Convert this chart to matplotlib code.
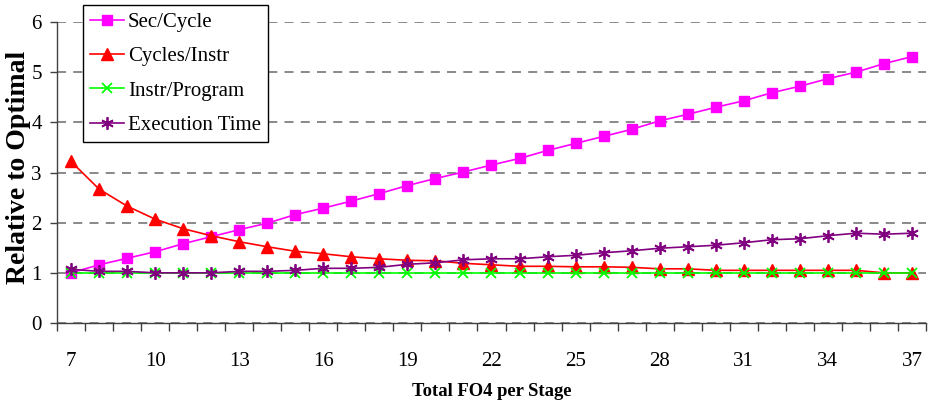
import matplotlib
matplotlib.use("Agg")
import matplotlib.pyplot as plt
import numpy as np

# Pipeline depth (total FO4 per stage)
fo4 = list(range(7, 38))

sec_per_cycle = [1.00, 1.16, 1.29, 1.42, 1.58, 1.72, 1.86, 1.99, 2.16, 2.29,
                 2.43, 2.58, 2.74, 2.88, 3.01, 3.15, 3.28, 3.44, 3.58, 3.72,
                 3.86, 4.03, 4.16, 4.30, 4.43, 4.59, 4.72, 4.87, 5.00, 5.17,
                 5.31]
cycles_per_instr = [3.22, 2.67, 2.33, 2.07, 1.88, 1.74, 1.62, 1.52, 1.43, 1.38,
                    1.32, 1.28, 1.25, 1.24, 1.19, 1.16, 1.13, 1.13, 1.12, 1.12,
                    1.11, 1.08, 1.08, 1.05, 1.05, 1.05, 1.05, 1.05, 1.05, 1.00,
                    1.00]
instr_per_program = [1.00] * 31
execution_time = [1.07, 1.03, 1.03, 1.00, 1.00, 1.00, 1.03, 1.03, 1.05, 1.09,
                  1.09, 1.11, 1.17, 1.20, 1.26, 1.28, 1.28, 1.32, 1.35, 1.40,
                  1.44, 1.49, 1.52, 1.55, 1.60, 1.66, 1.68, 1.74, 1.79, 1.77,
                  1.79]

tick_labels = [str(v) for v in range(7, 38, 3)]

plt.rcParams['font.family'] = ['Liberation Serif', 'DejaVu Serif']

W, H = 929, 407
fig = plt.figure(figsize=(W / 100, H / 100), dpi=100)
ax = fig.add_axes([57 / W, 84 / H, 869 / W, 301 / H])

x = np.arange(len(fo4))

ax.plot(x, sec_per_cycle, color='#FF00FF', marker='s', markersize=7,
        linewidth=1.2, label='Sec/Cycle', clip_on=False)
ax.plot(x, cycles_per_instr, color='#FF0000', marker='^', markersize=8,
        linewidth=1.2, label='Cycles/Instr', clip_on=False)
ax.plot(x, instr_per_program, color='#00FF00', marker='x', markersize=7,
        markeredgewidth=1.3, linewidth=1.2, label='Instr/Program', clip_on=False)
ax.plot(x, execution_time, color='#800080', marker=(6, 2, 0), markersize=9,
        markeredgewidth=1.3, linewidth=1.2, label='Execution Time', clip_on=False)

ax.set_xlim(-0.5, len(fo4) - 0.5)
ax.set_ylim(0, 6)
ax.set_yticks(range(0, 7))

# category boundaries carry the tick marks, labels sit under every third point
ax.set_xticks(np.arange(-0.5, len(fo4), 1.0))
ax.set_xticklabels([])
ax.set_xticks(np.arange(0, len(fo4), 3), minor=True)
ax.set_xticklabels(tick_labels, minor=True)
ax.tick_params(axis='x', which='major', length=6, width=1.0, color='#404040', direction='out')
ax.tick_params(axis='x', which='minor', length=0, pad=21, labelsize=15)
ax.tick_params(axis='y', length=5, width=1.0, color='#404040', pad=6, labelsize=15)

for s in ('top', 'right'):
    ax.spines[s].set_visible(False)
for s in ('left', 'bottom'):
    ax.spines[s].set_color('#404040')
    ax.spines[s].set_linewidth(1.0)

ax.yaxis.grid(True, linestyle=(0, (5, 4)), color='#808080', linewidth=1.3)
ax.set_axisbelow(True)

ax.set_ylabel('Relative to Optimal', fontsize=20, fontweight='bold')
ax.yaxis.label.set_verticalalignment('center')
ax.yaxis.set_label_coords((19 - 57) / 869, (323 - 167.5) / 301)

ax.set_xlabel('Total FO4 per Stage', fontsize=13.4, fontweight='bold')
ax.xaxis.label.set_verticalalignment('center')
ax.xaxis.set_label_coords(0.5, (407 - 392 - 84) / 301)

leg = ax.legend(loc='upper left', bbox_to_anchor=(83 / W, 1 - 5 / H),
                bbox_transform=fig.transFigure, borderaxespad=0, fontsize=15,
                frameon=True, fancybox=False, edgecolor='black',
                handlelength=1.6, handletextpad=0.2, labelspacing=0.71,
                borderpad=0.35)
leg.get_frame().set_linewidth(1.0)
leg.get_frame().set_alpha(1.0)
leg.set_zorder(5)

fig.savefig('out.png', dpi=100)
